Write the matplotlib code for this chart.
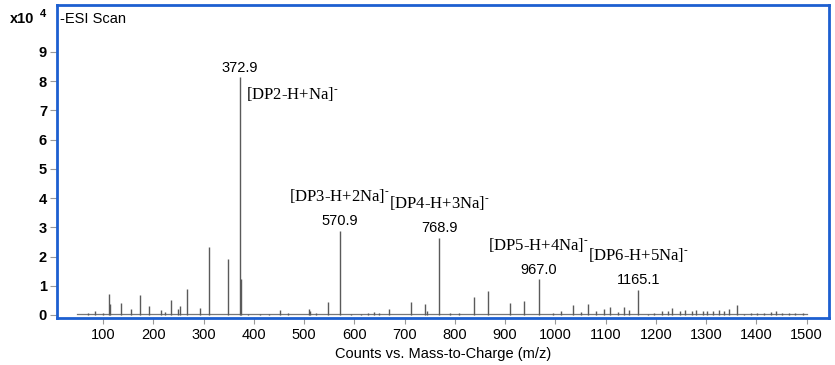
import matplotlib
matplotlib.use("Agg")
import matplotlib.pyplot as plt

plt.rcParams['font.family'] = ['Liberation Sans', 'DejaVu Sans']
plt.rcParams['mathtext.fontset'] = 'stix'

# m/z of peaks and their intensities (x10^4 counts)
mz = [70, 85, 100, 111, 113, 135, 155, 173, 191, 215, 223, 236, 249, 254, 268,
      293, 311.9, 349.5, 372.9, 374.2, 388, 413, 430, 453, 468, 509, 511, 524,
      547, 570.9, 594, 614, 627, 639, 650, 669, 712, 740, 745, 768.9, 790, 809,
      839, 867, 910, 938, 967.0, 995, 1011, 1036, 1051, 1066, 1081, 1096, 1109,
      1124, 1137, 1146, 1165.1, 1185, 1197, 1212, 1225, 1233, 1248, 1258, 1272,
      1281, 1293, 1302, 1314, 1326, 1336, 1346, 1361, 1376, 1389, 1402, 1416,
      1429, 1439, 1452, 1465, 1478, 1492]
intensity = [0.08, 0.13, 0.07, 0.72, 0.38, 0.40, 0.19, 0.67, 0.30, 0.17, 0.10,
             0.51, 0.21, 0.32, 0.90, 0.23, 2.33, 1.91, 8.13, 1.22, 0.05, 0.05,
             0.04, 0.17, 0.08, 0.19, 0.12, 0.08, 0.43, 2.88, 0.04, 0.05, 0.06,
             0.10, 0.07, 0.20, 0.45, 0.37, 0.12, 2.65, 0.06, 0.08, 0.62, 0.83,
             0.40, 0.48, 1.22, 0.07, 0.13, 0.34, 0.10, 0.37, 0.12, 0.22, 0.28,
             0.10, 0.28, 0.17, 0.85, 0.05, 0.08, 0.12, 0.15, 0.25, 0.12, 0.18,
             0.13, 0.17, 0.12, 0.15, 0.12, 0.17, 0.12, 0.20, 0.34, 0.05, 0.06,
             0.08, 0.08, 0.10, 0.12, 0.08, 0.08, 0.08, 0.06]
scan_range = [48, 1500]

# annotated ions
ion_mz = [372.9, 570.9, 768.9, 967.0, 1165.1]
ion_int = [8.13, 2.88, 2.65, 1.22, 0.85]
ion_mass_labels = ['372.9', '570.9', '768.9', '967.0', '1165.1']
ion_names = ['[DP2-H+Na]', '[DP3-H+2Na]', '[DP4-H+3Na]', '[DP5-H+4Na]', '[DP6-H+5Na]']

x_ticks = [100, 200, 300, 400, 500, 600, 700, 800, 900, 1000, 1100, 1200, 1300, 1400, 1500]
y_ticks = [0, 1, 2, 3, 4, 5, 6, 7, 8, 9]

fig = plt.figure(figsize=(8.35, 3.65), dpi=100)
ax = fig.add_axes([0.068, 0.129, 0.925, 0.857])

blue = '#1d5fd0'
grey = '#5a5a5a'

ax.plot(scan_range, [0.02, 0.02], color='#777777', lw=0.9, zorder=2)
ax.vlines(mz, 0, intensity, color=grey, lw=1.0, zorder=3)

ax.set_xlim(8, 1545)
ax.set_ylim(-0.1, 10.6)
ax.set_xticks(x_ticks)
ax.set_yticks(y_ticks)
ax.tick_params(axis='x', length=4, color='#999999', labelsize=10.5, pad=3)
ax.tick_params(axis='y', length=5, color='#999999', labelsize=10.5, pad=2)
for lab in ax.get_yticklabels():
    lab.set_fontweight('bold')
for s in ax.spines.values():
    s.set_color(blue)
    s.set_linewidth(2)

ax.set_xlabel('Counts vs. Mass-to-Charge (m/z)', fontsize=10.5, labelpad=4)

serif = ['Liberation Serif', 'DejaVu Serif']


def ion_label(ax, text, xy, offset, ha):
    t = ax.annotate(text, xy, xytext=offset, textcoords='offset points',
                    ha=ha, va='center', fontsize=12, family=serif)
    return t


for i, (x, y, ml, nm) in enumerate(zip(ion_mz, ion_int, ion_mass_labels, ion_names)):
    ax.annotate(ml, (x, y), xytext=(0, 2), textcoords='offset points',
                ha='center', va='bottom', fontsize=10.5)
    label = nm + r'$^{\text{-}}$'
    if i == 0:
        ion_label(ax, label, (x, y), (4, -12), 'left')
    else:
        ion_label(ax, label, (x, y), (0, 25), 'center')

ax.text(0.004, 0.955, '-ESI Scan', transform=ax.transAxes, fontsize=10.5, va='center', ha='left')
fig.text(0.012, 0.947, 'x10', fontsize=10.5, fontweight='bold', va='center', ha='left')
fig.text(0.048, 0.962, '4', fontsize=8, fontweight='bold', va='center', ha='left')

fig.savefig('out.png', dpi=100)
